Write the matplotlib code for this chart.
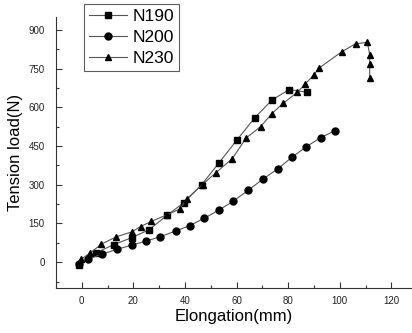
import numpy as np
import matplotlib.pyplot as plt
from matplotlib.ticker import MultipleLocator

plt.rcParams['font.family'] = ['Liberation Sans', 'DejaVu Sans']

# N190 (squares)
x190 = [-1.2, 5.6, 12.4, 19.3, 26.0, 33.1, 39.6, 46.5, 53.2, 60.1, 67.0, 73.9, 80.5, 87.4]
y190 = [-12, 37, 68, 95, 125, 182, 231, 301, 385, 473, 559, 630, 669, 658]

# N200 (circles)
x200 = [-1.0, 2.3, 7.9, 13.7, 19.3, 25.0, 30.5, 36.4, 41.9, 47.4, 53.2, 58.8, 64.4,
        70.1, 76.0, 81.5, 87.1, 92.7, 98.2]
y200 = [-8, 12, 31, 50, 66, 82, 99, 121, 142, 170, 202, 237, 278, 321, 362, 407, 448, 483, 510]

# N230 (triangles)
x230 = [-0.2, 3.0, 7.6, 13.3, 19.3, 22.8, 26.9, 33.1, 38.0, 40.7, 46.8, 52.0, 58.3, 63.8,
        69.3, 73.7, 78.0, 83.5, 86.7, 90.0, 92.1, 100.7, 106.1, 110.7, 111.6, 111.6, 111.6]
y230 = [12, 34, 70, 98, 117, 138, 158, 184, 206, 245, 301, 347, 401, 482, 525, 576, 615,
        658, 691, 727, 753, 815, 846, 852, 804, 768, 714]

fig = plt.figure(figsize=(4.12, 3.33), dpi=100)
ax = fig.add_axes([56 / 412, 45 / 333, 356 / 412, 271 / 333])

kw = dict(color='#555555', lw=0.8, mfc='black', mec='black', ms=5)
ax.plot(x190, y190, marker='s', label='N190', **kw)
ax.plot(x200, y200, marker='o', label='N200', **kw)
ax.plot(x230, y230, marker='^', label='N230', **kw)

ax.set_xlim(-10, 128)
ax.set_ylim(-100, 950)
ax.xaxis.set_major_locator(MultipleLocator(20))
ax.xaxis.set_minor_locator(MultipleLocator(10))
ax.yaxis.set_major_locator(MultipleLocator(150))
ax.yaxis.set_minor_locator(MultipleLocator(75))
ax.set_xticks(np.arange(0, 121, 20))
ax.tick_params(which='both', direction='in', labelsize=7, width=0.8, color='#333333',
               labelcolor='#222222')
ax.tick_params(which='major', length=4)
ax.tick_params(which='minor', length=2.5)
ax.tick_params(axis='x', pad=6)
ax.tick_params(axis='y', pad=8)
for s in ['top', 'right']:
    ax.spines[s].set_visible(False)
for s in ['left', 'bottom']:
    ax.spines[s].set_color('#333333')
    ax.spines[s].set_linewidth(0.8)

ax.set_xlabel('Elongation(mm)', fontsize=12, labelpad=2)
ax.set_ylabel('Tension load(N)', fontsize=12, labelpad=4)

leg = ax.legend(loc='upper left', bbox_to_anchor=(28 / 356, 1.048), fontsize=12.5,
                frameon=True, fancybox=False, edgecolor='#333333',
                handlelength=2.2, handletextpad=0.3, labelspacing=0.32,
                borderpad=0.3, borderaxespad=0)
leg.get_frame().set_linewidth(0.8)

fig.savefig('out.png', dpi=100)
